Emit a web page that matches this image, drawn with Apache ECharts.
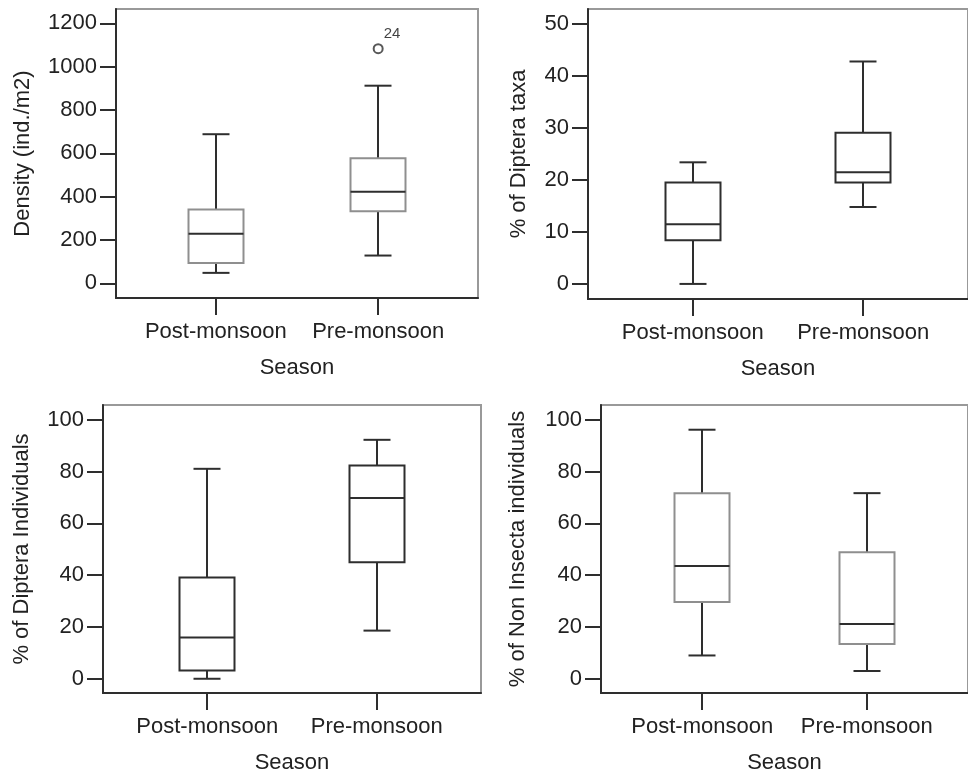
<!DOCTYPE html>
<html>
<head>
<meta charset="utf-8">
<script src="https://cdn.jsdelivr.net/npm/echarts@6/dist/echarts.min.js"></script>
<style>
html,body{margin:0;padding:0;background:#fff;}
#chart{width:968px;height:775px;}
</style>
</head>
<body>
<div id="chart"></div>
<script>
// ---- data ----
const categories = ['Post-monsoon', 'Pre-monsoon'];
// [min, Q1, median, Q3, max] per category
const density = [[48, 94, 229, 341, 688], [128, 332, 423, 577, 912]];
const dipteraTaxa = [[0, 8.4, 11.5, 19.5, 23.4], [14.8, 19.5, 21.5, 29.1, 42.8]];
const dipteraIndividuals = [[0, 3.2, 15.9, 39.1, 81.1], [18.6, 45.0, 69.8, 82.4, 92.3]];
const nonInsecta = [[9.0, 29.7, 43.6, 71.7, 96.2], [3.0, 13.4, 21.2, 48.9, 71.7]];
const densityOutliers = [[1, 1083]];
const densityOutlierLabels = ['24'];
const yTicksDensity = [0, 200, 400, 600, 800, 1000, 1200];
const yTicksTaxa = [0, 10, 20, 30, 40, 50];
const yTicksPct = [0, 20, 40, 60, 80, 100];
const xTitle = 'Season';
const yTitles = ['Density (ind./m2)', '% of Diptera taxa', '% of Diptera Individuals', '% of Non Insecta individuals'];

// ---- styling ----
const DARK = '#2e2e2e';
const GRAY = '#8f8f8f';
const FONT = 'Liberation Sans';
const FS = 22;

const panels = [
  {grid: {left: 116, top: 9, width: 362, height: 289}, yMin: -68, yMax: 1266, ticks: yTicksDensity, data: density, boxColor: GRAY, nameGap: 82},
  {grid: {left: 588, top: 9, width: 390, height: 290}, yMin: -2.9, yMax: 52.9, ticks: yTicksTaxa, data: dipteraTaxa, boxColor: DARK, nameGap: 58},
  {grid: {left: 103, top: 405, width: 378, height: 290}, yMin: -5.5, yMax: 105.75, ticks: yTicksPct, data: dipteraIndividuals, boxColor: DARK, nameGap: 70},
  {grid: {left: 601, top: 405, width: 378, height: 290}, yMin: -5.5, yMax: 105.75, ticks: yTicksPct, data: nonInsecta, boxColor: GRAY, nameGap: 72}
];

function makeRender(boxColor) {
  return function (params, api) {
    const x = api.value(0);
    const pLo = api.coord([x, api.value(1)]);
    const pQ1 = api.coord([x, api.value(2)]);
    const pMd = api.coord([x, api.value(3)]);
    const pQ3 = api.coord([x, api.value(4)]);
    const pHi = api.coord([x, api.value(5)]);
    const cx = Math.round(pMd[0]);
    const hw = 27.5, cw = 13.5;
    const line = (x1, y1, x2, y2, color) => ({
      type: 'line', shape: {x1, y1, x2, y2}, style: {stroke: color, lineWidth: 2}
    });
    return {
      type: 'group',
      children: [
        line(cx, pHi[1], cx, pQ3[1], DARK),
        line(cx, pQ1[1], cx, pLo[1], DARK),
        line(cx - cw, pHi[1], cx + cw, pHi[1], DARK),
        line(cx - cw, pLo[1], cx + cw, pLo[1], DARK),
        {type: 'rect', shape: {x: cx - hw, y: pQ3[1], width: 2 * hw, height: pQ1[1] - pQ3[1]},
          style: {fill: 'transparent', stroke: boxColor, lineWidth: 2}},
        line(cx - hw, pMd[1], cx + hw, pMd[1], DARK)
      ]
    };
  };
}

const grids = [], xAxes = [], yAxes = [], series = [];
panels.forEach((p, i) => {
  grids.push(Object.assign({show: true, borderColor: '#999', borderWidth: 2, backgroundColor: 'transparent'}, p.grid));
  xAxes.push({
    type: 'value', gridIndex: i, min: -0.615, max: 1.615,
    splitLine: {show: false},
    axisLine: {show: true, onZero: false, lineStyle: {color: DARK, width: 2}},
    axisTick: {show: true, length: 17, customValues: categories.map((c, k) => k), lineStyle: {color: DARK, width: 2}},
    axisLabel: {customValues: categories.map((c, k) => k), formatter: v => categories[Math.round(v)],
      margin: 23, fontFamily: FONT, fontSize: FS, color: '#222'},
    name: xTitle, nameLocation: 'middle', nameGap: 59,
    nameTextStyle: {fontFamily: FONT, fontSize: FS, color: '#222'}
  });
  yAxes.push({
    type: 'value', gridIndex: i, min: p.yMin, max: p.yMax,
    splitLine: {show: false},
    axisLine: {show: true, onZero: false, lineStyle: {color: DARK, width: 2}},
    axisTick: {show: true, length: 16, customValues: p.ticks, lineStyle: {color: DARK, width: 2}},
    axisLabel: {customValues: p.ticks, formatter: v => String(v), margin: 19, fontFamily: FONT, fontSize: FS, color: '#222'},
    name: yTitles[i], nameLocation: 'middle', nameGap: p.nameGap,
    nameTextStyle: {fontFamily: FONT, fontSize: FS, color: '#222'}
  });
  series.push({
    type: 'custom', xAxisIndex: i, yAxisIndex: i,
    renderItem: makeRender(p.boxColor),
    encode: {x: 0, y: [1, 2, 3, 4, 5]},
    data: p.data.map((v, k) => [k].concat(v)),
    silent: true
  });
});

series.push({
  type: 'scatter', xAxisIndex: 0, yAxisIndex: 0,
  symbol: 'emptyCircle', symbolSize: 9,
  itemStyle: {color: DARK, borderColor: DARK, borderWidth: 2.5},
  data: densityOutliers.map((d, k) => ({value: d, label: {formatter: densityOutlierLabels[k]}})),
  label: {show: true, position: 'right', distance: 0, offset: [0, -15],
    fontFamily: FONT, fontSize: 15, color: '#111'},
  silent: true
});

const chart = echarts.init(document.getElementById('chart'), null, {renderer: 'canvas'});
chart.setOption({
  backgroundColor: '#fff',
  animation: false,
  grid: grids,
  xAxis: xAxes,
  yAxis: yAxes,
  series: series
});
</script>
</body>
</html>
